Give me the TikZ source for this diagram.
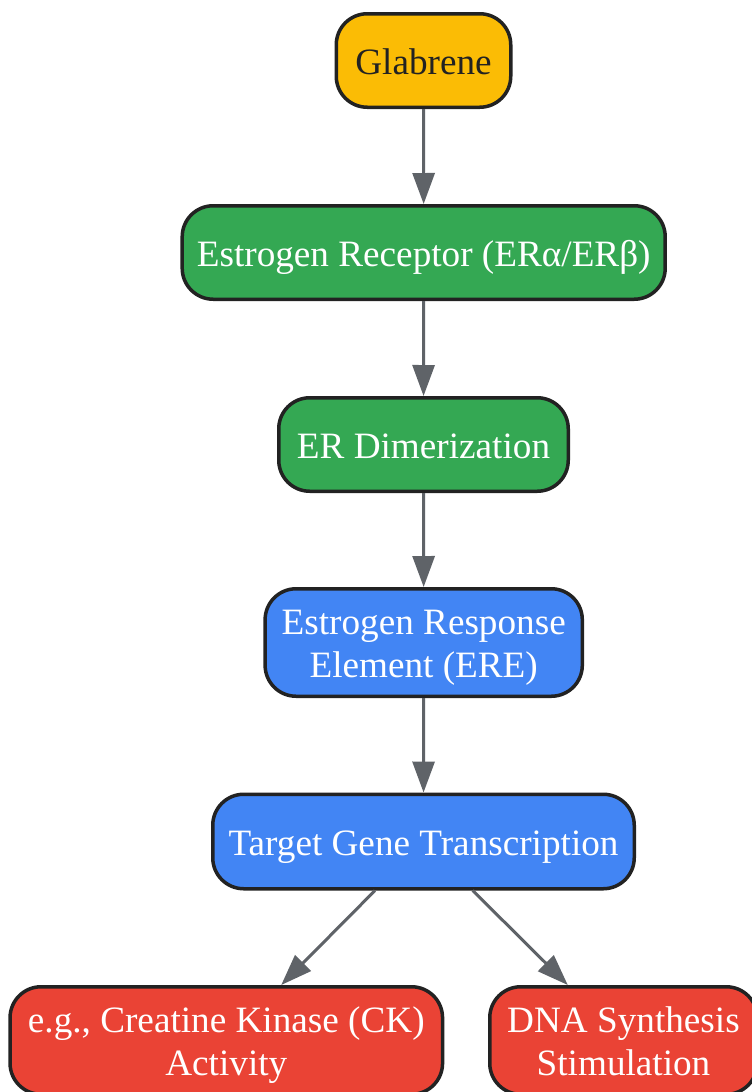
\documentclass[tikz,border=0pt]{standalone}
\usepackage{fontspec}
\setmainfont{Liberation Serif}
\usetikzlibrary{arrows.meta}
\definecolor{cyel}{HTML}{FBBC05}
\definecolor{cgreen}{HTML}{34A853}
\definecolor{cblue}{HTML}{4285F4}
\definecolor{cred}{HTML}{EA4335}
\definecolor{cborder}{HTML}{222222}
\definecolor{cgray}{HTML}{5F6368}
\definecolor{ctext}{HTML}{222222}
\begin{document}
\begin{tikzpicture}[x=1pt,y=-1pt,
  box/.style={draw=cborder, line width=3.5pt, rounded corners=31pt, align=center,
    inner sep=0pt, font=\fontsize{37.2}{43}\selectfont, text=white},
  one/.style={text height=28pt, text depth=0pt},
  two/.style={text height=70.5pt, text depth=0pt},
  arr/.style={draw=cgray, line width=3pt, -{Triangle[length=31pt,width=22pt]}}]
\useasboundingbox[fill=white] (0,0) rectangle (752,1092);
\node[box, one, fill=cyel, text=ctext, minimum width=174.5pt, minimum height=93.5pt] (gla) at (423.5,60.5) {Glabrene};
\node[box, one, fill=cgreen, minimum width=483pt, minimum height=93.5pt] (er) at (423.7,252.5) {Estrogen Receptor (ERα/ERβ)};
\node[box, one, fill=cgreen, minimum width=289.5pt, minimum height=93.5pt] (dim) at (423.5,444.5) {ER Dimerization};
\node[box, two, fill=cblue, minimum width=317.2pt, minimum height=107.5pt] (ere) at (423.7,642.5) {Estrogen Response\\Element (ERE)};
\node[box, one, fill=cblue, minimum width=421.5pt, minimum height=94.5pt] (tgt) at (423.5,841.5) {Target Gene Transcription};
\node[box, two, fill=cred, minimum width=432.5pt, minimum height=107.5pt] (ck) at (226.3,1040.5) {e.g., Creatine Kinase (CK)\\Activity};
\node[box, two, fill=cred, minimum width=267.5pt, minimum height=107.5pt] (dna) at (623.5,1040.5) {DNA Synthesis\\Stimulation};
\draw[arr] (gla) -- (er);
\draw[arr] (er) -- (dim);
\draw[arr] (dim) -- (ere);
\draw[arr] (ere) -- (tgt);
\draw[arr] (tgt) -- (ck);
\draw[arr] (tgt) -- (dna);
\end{tikzpicture}
\end{document}
